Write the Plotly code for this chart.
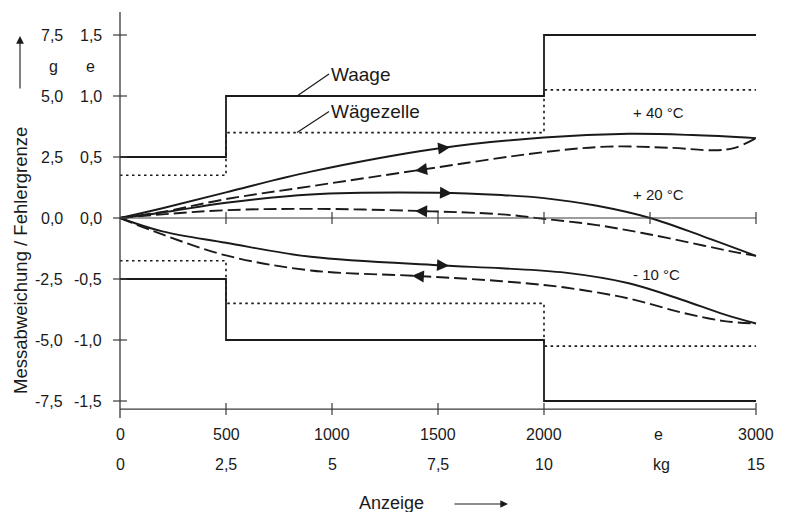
import numpy as np
import plotly.graph_objects as go

# ---------------- data ----------------
x_ticks = [0, 500, 1000, 1500, 2000, 3000]
x_labels_e = ["0", "500", "1000", "1500", "2000", "3000"]
x_labels_kg = ["0", "2,5", "5", "7,5", "10", "15"]
zero_ticks = [500, 1000, 1500, 2000, 2500, 3000]

y_ticks = [1.5, 1.0, 0.5, 0.0, -0.5, -1.0, -1.5]
y_labels_e = ["1,5", "1,0", "0,5", "0,0", "-0,5", "-1,0", "-1,5"]
y_labels_g = ["7,5", "5,0", "2,5", "0,0", "-2,5", "-5,0", "-7,5"]

# limit steps (in e)
step_x = [0, 500, 2000, 3000]
waage_upper = [0.5, 1.0, 1.5, 1.5]
waage_lower = [-0.5, -1.0, -1.5, -1.5]
zelle_upper = [0.35, 0.7, 1.05, 1.05]
zelle_lower = [-0.35, -0.7, -1.05, -1.05]

# measured error curves (in e)
p40_up_x = [0, 200, 500, 900, 1500, 2000, 2400, 2700, 3000]
p40_up_y = [0, 0.08, 0.21, 0.38, 0.57, 0.66, 0.69, 0.68, 0.655]
p40_dn_x = [0, 200, 500, 900, 1400, 2000, 2300, 2600, 2800, 2900, 3000]
p40_dn_y = [0, 0.05, 0.155, 0.26, 0.39, 0.54, 0.585, 0.575, 0.555, 0.575, 0.655]

p20_up_x = [0, 200, 500, 900, 1500, 1800, 2000, 2250, 2500, 2750, 3000]
p20_up_y = [0, 0.045, 0.125, 0.193, 0.207, 0.188, 0.163, 0.10, 0.0, -0.15, -0.31]
p20_dn_x = [0, 200, 500, 900, 1400, 1800, 2000, 2250, 2500, 2750, 2900, 3000]
p20_dn_y = [0, 0.03, 0.064, 0.075, 0.058, 0.030, -0.007, -0.058, -0.135, -0.225, -0.28, -0.31]

m10_up_x = [0, 200, 500, 900, 1500, 1800, 2100, 2400, 2650, 2850, 3000]
m10_up_y = [0, -0.11, -0.203, -0.318, -0.387, -0.412, -0.448, -0.535, -0.67, -0.79, -0.865]
m10_dn_x = [0, 200, 500, 900, 1400, 1800, 2100, 2400, 2650, 2850, 3000]
m10_dn_y = [0, -0.135, -0.307, -0.43, -0.475, -0.518, -0.57, -0.66, -0.775, -0.845, -0.865]

# arrow tip positions (x in e): increasing load / decreasing load
arrow_up_x = [1557, 1566, 1552]
arrow_dn_x = [1392, 1392, 1377]

temp_labels = ["+ 40 °C", "+ 20 °C", "- 10 °C"]
temp_label_x = [2542, 2542, 2530]
temp_label_y = [0.861, 0.19, -0.459]

# ---------------- style ----------------
FONT = "Liberation Sans, Arial, sans-serif"
INK = "#1a1a1a"
AX = "#3a3a3a"
AXIS_Y = -1.566      # position of the bottom axis line
YAX_TOP, YAX_BOT = 1.689, -1.639

fig = go.Figure()


def add_line(x, y, dash=None, width=1.8, shape="linear"):
    fig.add_trace(go.Scatter(
        x=x, y=y, mode="lines", hoverinfo="skip", showlegend=False,
        line=dict(color=INK, width=width, dash=dash, shape=shape, smoothing=1.0)))


# limit lines
add_line(step_x, waage_upper, shape="hv", width=1.8)
add_line(step_x, waage_lower, shape="hv", width=1.8)
add_line(step_x, zelle_upper, dash="2.5px,3.5px", shape="hv", width=1.6)
add_line(step_x, zelle_lower, dash="2.5px,3.5px", shape="hv", width=1.6)

curves = [
    (p40_up_x, p40_up_y, p40_dn_x, p40_dn_y),
    (p20_up_x, p20_up_y, p20_dn_x, p20_dn_y),
    (m10_up_x, m10_up_y, m10_dn_x, m10_dn_y),
]
for (ux, uy, dx, dy) in curves:
    add_line(ux, uy, shape="spline", width=1.9)
    add_line(dx, dy, dash="13px,5px", shape="spline", width=1.9)

annotations = []

# arrowheads on curves
for i, (ux, uy, dx, dy) in enumerate(curves):
    for tip, xs, ys, d in ((arrow_up_x[i], ux, uy, 1), (arrow_dn_x[i], dx, dy, -1)):
        ty = float(np.interp(tip, xs, ys))
        tail = tip - d * 62
        tly = float(np.interp(tail, xs, ys))
        annotations.append(dict(
            x=tip, y=ty, ax=tail, ay=tly, xref="x", yref="y", axref="x", ayref="y",
            text="", showarrow=True, arrowhead=2, arrowsize=1.6, arrowwidth=1.5,
            arrowcolor=INK, standoff=0))

shapes = []
# axes
shapes.append(dict(type="line", xref="x", yref="y", x0=0, x1=0, y0=YAX_BOT, y1=YAX_TOP,
                   line=dict(color=AX, width=1.3)))
shapes.append(dict(type="line", xref="x", yref="y", x0=0, x1=3000, y0=AXIS_Y, y1=AXIS_Y,
                   line=dict(color=AX, width=1.3)))
shapes.append(dict(type="line", xref="x", yref="y", x0=0, x1=3000, y0=0, y1=0,
                   line=dict(color=AX, width=1.2)))
for xv in x_ticks[1:]:
    shapes.append(dict(type="line", xref="x", yref="y", x0=xv, x1=xv, ysizemode="pixel",
                       yanchor=AXIS_Y, y0=-6, y1=6, line=dict(color=AX, width=1.2)))
for xv in zero_ticks:
    shapes.append(dict(type="line", xref="x", yref="y", x0=xv, x1=xv, ysizemode="pixel",
                       yanchor=0, y0=-6, y1=6, line=dict(color=AX, width=1.2)))
for yv in y_ticks:
    shapes.append(dict(type="line", xref="x", yref="y", y0=yv, y1=yv, xsizemode="pixel",
                       xanchor=0, x0=-7, x1=7, line=dict(color=AX, width=1.2)))

TXT = dict(family=FONT, size=16, color=INK)

# y tick labels (two columns: g and e)
for yv, le, lg in zip(y_ticks, y_labels_e, y_labels_g):
    annotations.append(dict(x=0, y=yv, xref="x", yref="y", text=le, showarrow=False,
                            xanchor="right", yanchor="middle", xshift=-16, font=TXT))
    annotations.append(dict(x=0, y=yv, xref="x", yref="y", text=lg, showarrow=False,
                            xanchor="right", yanchor="middle", xshift=-55, font=TXT))
annotations.append(dict(x=0, y=1.238, xref="x", yref="y", text="e", showarrow=False,
                        xanchor="center", yanchor="middle", xshift=-30, font=TXT))
annotations.append(dict(x=0, y=1.238, xref="x", yref="y", text="g", showarrow=False,
                        xanchor="center", yanchor="middle", xshift=-67, font=TXT))

# x tick labels (two rows: e and kg)
for xv, le, lk in zip(x_ticks, x_labels_e, x_labels_kg):
    annotations.append(dict(x=xv, y=0, xref="x", yref="paper", text=le, showarrow=False,
                            xanchor="center", yanchor="middle", yshift=-14, font=TXT))
    annotations.append(dict(x=xv, y=0, xref="x", yref="paper", text=lk, showarrow=False,
                            xanchor="center", yanchor="middle", yshift=-44, font=TXT))
annotations.append(dict(x=2500, y=0, xref="x", yref="paper", text="e", showarrow=False,
                        xanchor="center", yanchor="middle", yshift=-14, xshift=8, font=TXT))
annotations.append(dict(x=2500, y=0, xref="x", yref="paper", text="kg", showarrow=False,
                        xanchor="center", yanchor="middle", yshift=-44, xshift=11, font=TXT))

# axis titles
annotations.append(dict(x=(391 - 100) / 670, y=(420 - 503) / 412, xref="paper", yref="paper",
                        text="Anzeige", showarrow=False, xanchor="center", yanchor="middle",
                        font=dict(family=FONT, size=18, color=INK)))
annotations.append(dict(x=(508 - 100) / 670, y=(420 - 504) / 412, xref="paper", yref="paper",
                        text="", showarrow=True, ax=-55, ay=0, axref="pixel", ayref="pixel",
                        arrowhead=2, arrowsize=1.4, arrowwidth=1.1, arrowcolor=INK, standoff=0))
annotations.append(dict(x=(20.5 - 100) / 670, y=(420 - 260.5) / 412, xref="paper", yref="paper",
                        text="Messabweichung / Fehlergrenze", textangle=-90, showarrow=False,
                        xanchor="center", yanchor="middle",
                        font=dict(family=FONT, size=18.5, color=INK)))
annotations.append(dict(x=(20 - 100) / 670, y=(420 - 36) / 412, xref="paper", yref="paper",
                        text="", showarrow=True, ax=0, ay=54, axref="pixel", ayref="pixel",
                        arrowhead=2, arrowsize=1.4, arrowwidth=1.1, arrowcolor=INK, standoff=0))

# series labels with leader lines
annotations.append(dict(x=835, y=1.0, xref="x", yref="y", text="Waage", showarrow=True,
                        ax=32, ay=-22, axref="pixel", ayref="pixel", xanchor="left",
                        yanchor="middle", arrowhead=0, arrowwidth=1.2, arrowcolor=INK,
                        font=dict(family=FONT, size=19, color=INK)))
annotations.append(dict(x=835, y=0.7, xref="x", yref="y", text="Wägezelle", showarrow=True,
                        ax=32, ay=-21, axref="pixel", ayref="pixel", xanchor="left",
                        yanchor="middle", arrowhead=0, arrowwidth=1.2, arrowcolor=INK,
                        font=dict(family=FONT, size=19, color=INK)))

for t, tx, ty in zip(temp_labels, temp_label_x, temp_label_y):
    annotations.append(dict(x=tx, y=ty, xref="x", yref="y", text=t, showarrow=False,
                            xanchor="center", yanchor="middle",
                            font=dict(family=FONT, size=15, color=INK)))

fig.update_layout(
    width=790, height=512,
    margin=dict(l=100, r=20, t=8, b=92, pad=0),
    paper_bgcolor="white", plot_bgcolor="white",
    xaxis=dict(range=[-20 / 0.212, 650 / 0.212], visible=False, showgrid=False, zeroline=False),
    yaxis=dict(range=[(218 - 420) / 122, (218 - 8) / 122], visible=False, showgrid=False,
               zeroline=False),
    shapes=shapes, annotations=annotations, showlegend=False,
)

fig.write_html("out.html", config={"displayModeBar": False},
               post_script="document.body.style.margin='0';document.body.style.overflow='hidden';")
